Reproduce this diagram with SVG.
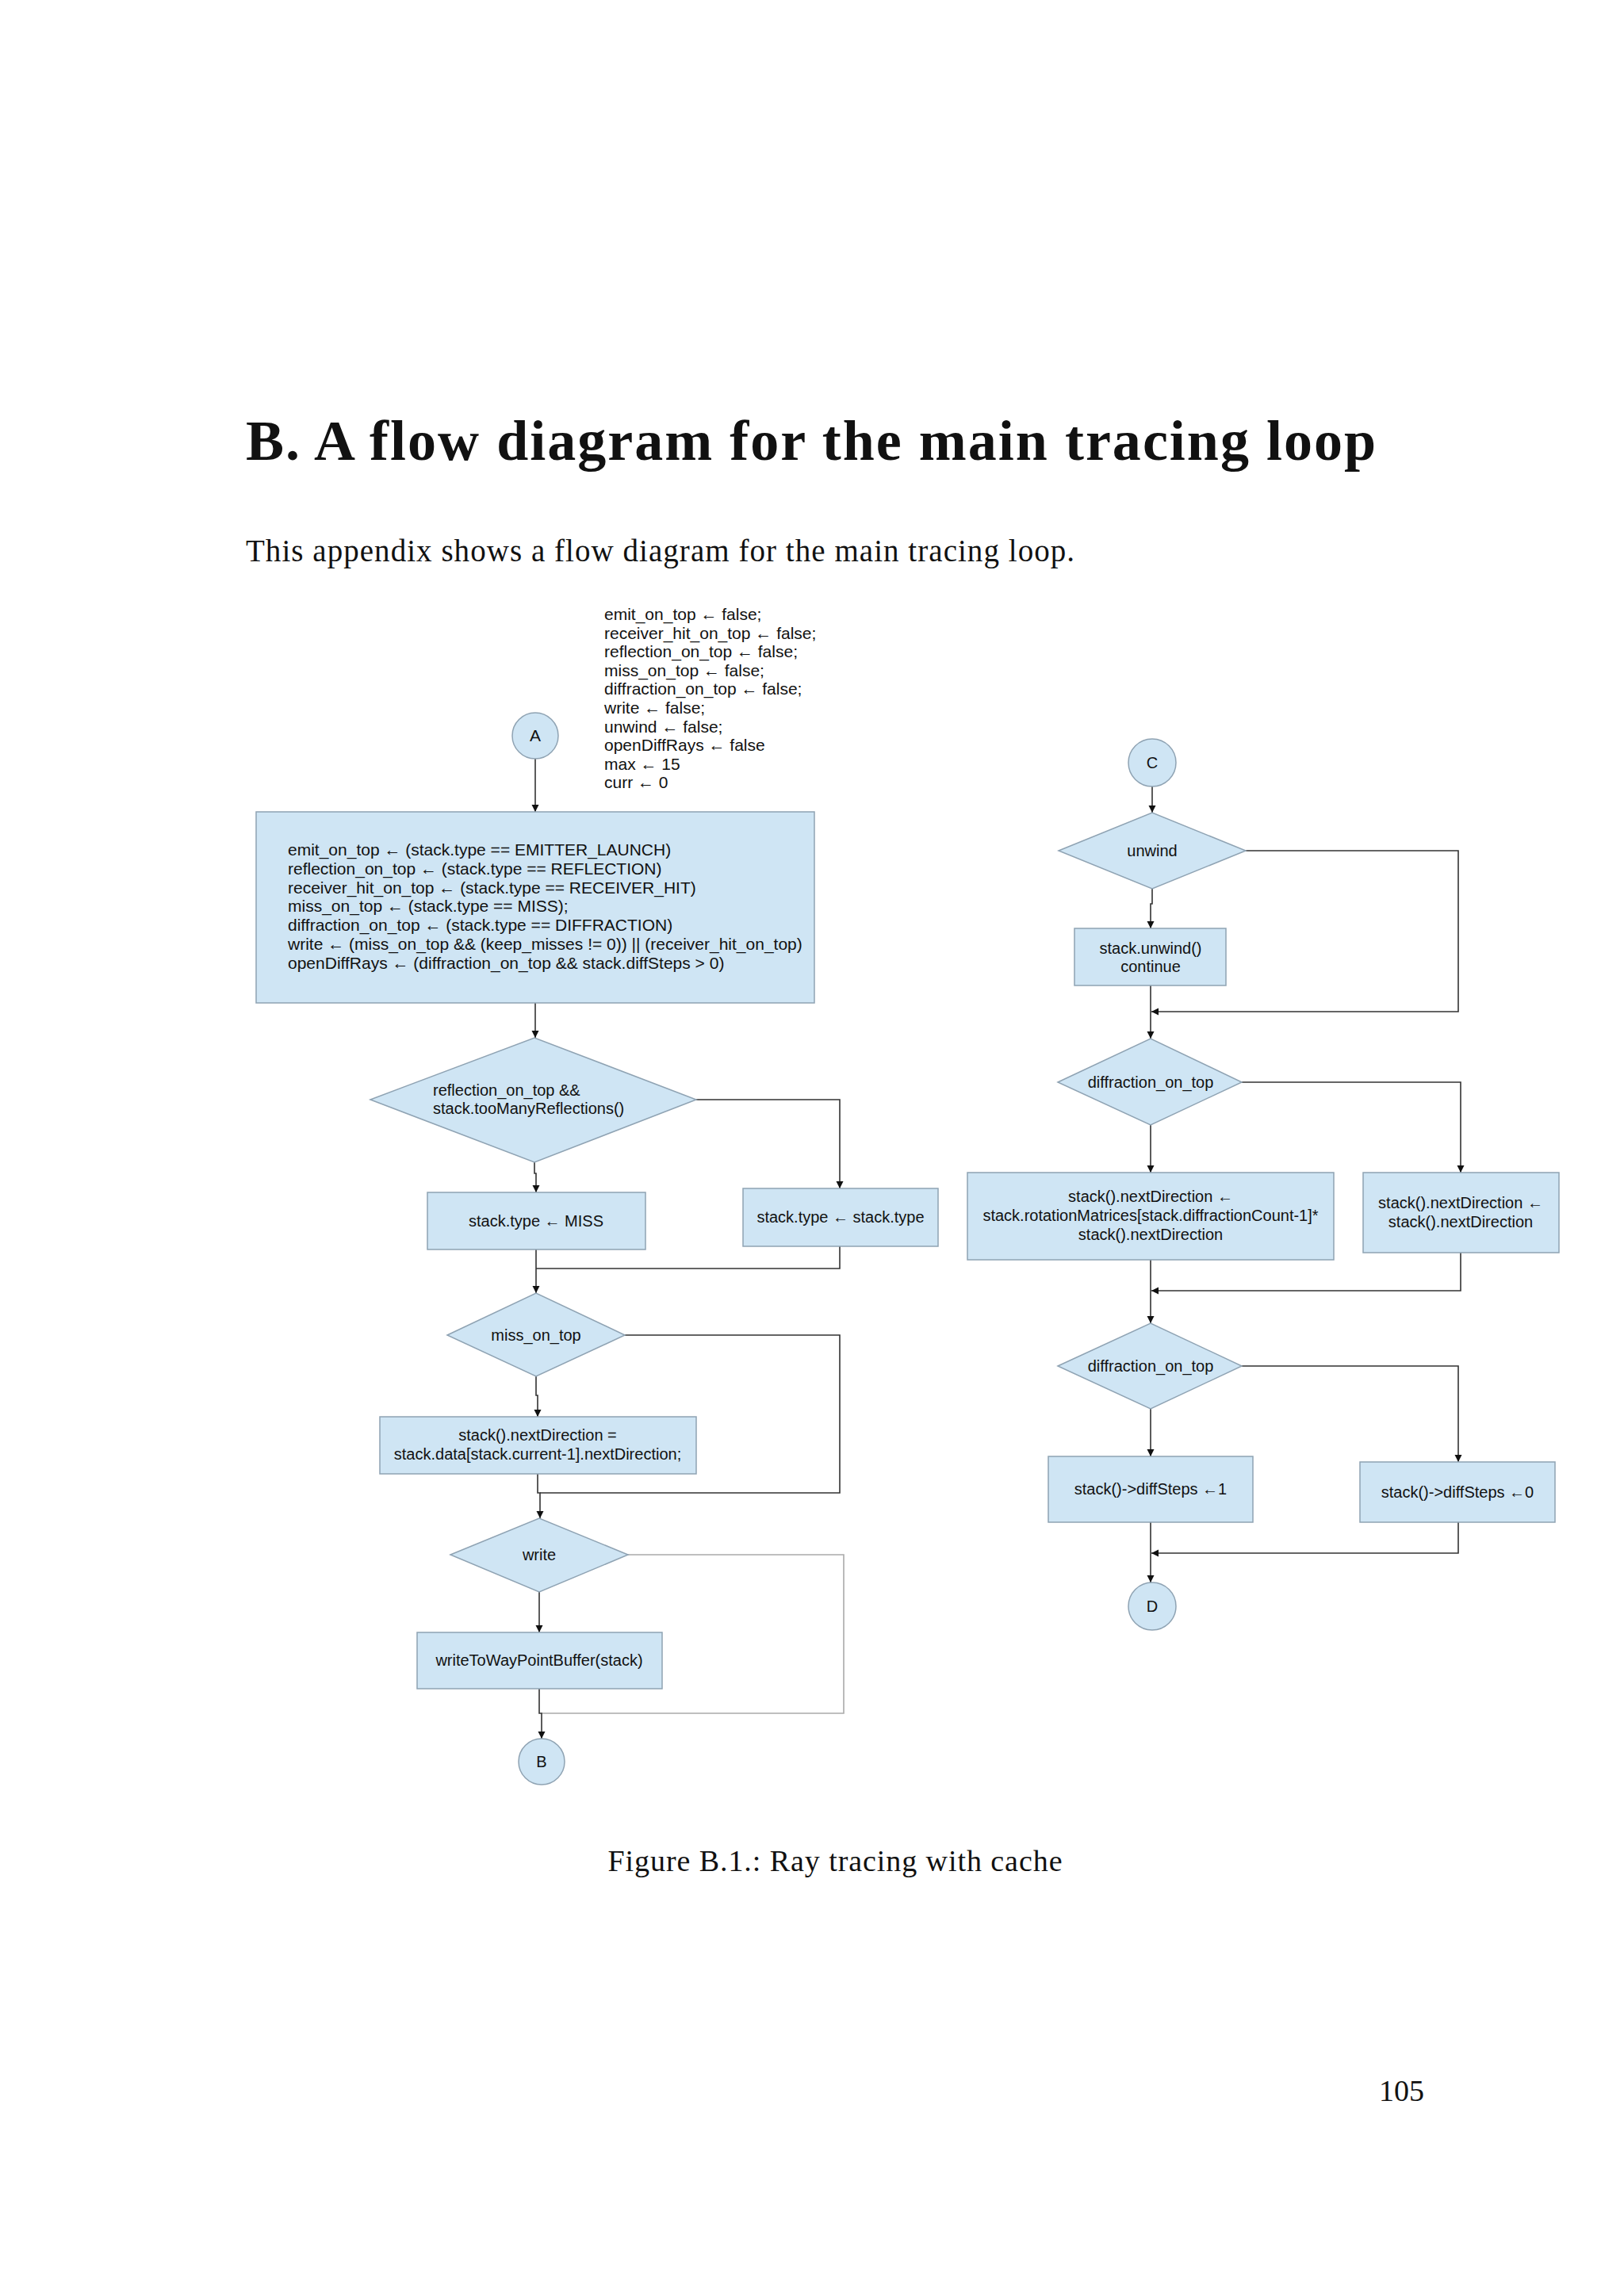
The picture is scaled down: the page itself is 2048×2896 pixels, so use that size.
<svg xmlns="http://www.w3.org/2000/svg" width="2048" height="2896" viewBox="0 0 2048 2896">
<style>
.n{fill:#cfe5f4;stroke:#8fa3b3;stroke-width:1.5}
.t{font-family:"Liberation Sans",Arial,sans-serif;font-size:20px;fill:#111}
.tn{font-family:"Liberation Sans Narrow","Liberation Sans",Arial,sans-serif;font-size:21px;fill:#111}
.c{text-anchor:middle}
.e{fill:none;stroke:#333;stroke-width:1.6}
.g{fill:none;stroke:#aaa;stroke-width:1.6}
.s{font-family:"Liberation Serif","Times New Roman",serif;fill:#111}
</style>
<defs><marker id="a" viewBox="0 0 10 10" refX="10" refY="5" markerWidth="9" markerHeight="11" orient="auto" markerUnits="userSpaceOnUse"><path d="M0,0L10,5L0,10z" fill="#111"/></marker></defs>
<rect width="2048" height="2896" fill="#fff"/>
<text class="s" x="310" y="580" font-size="72" font-weight="bold" textLength="1425">B.  A flow diagram for the main tracing loop</text>
<text class="s" x="310" y="708" font-size="39" textLength="1045">This appendix shows a flow diagram for the main tracing loop.</text>
<g id="init"><text class="tn" x="762" y="782">emit_on_top ← false;<tspan x="762" dy="23.6">receiver_hit_on_top ← false;</tspan><tspan x="762" dy="23.6">reflection_on_top ← false;</tspan><tspan x="762" dy="23.6">miss_on_top ← false;</tspan><tspan x="762" dy="23.6">diffraction_on_top ← false;</tspan><tspan x="762" dy="23.6">write ← false;</tspan><tspan x="762" dy="23.6">unwind ←  false;</tspan><tspan x="762" dy="23.6">openDiffRays ←  false</tspan><tspan x="762" dy="23.6">max ← 15</tspan><tspan x="762" dy="23.6">curr ← 0</tspan></text></g>
<g id="connectors">
<path class="e" d="M675,957V1024" marker-end="url(#a)"/>
<path class="e" d="M675,1265V1309" marker-end="url(#a)"/>
<path class="e" d="M878,1387H1059V1499" marker-end="url(#a)"/>
<path class="e" d="M674,1466V1480H676V1504" marker-end="url(#a)"/>
<path class="e" d="M676,1576V1631" marker-end="url(#a)"/>
<path class="e" d="M1059,1572V1600H676"/>
<path class="e" d="M788,1684H1059V1883H681"/>
<path class="e" d="M676,1736V1760H678V1787" marker-end="url(#a)"/>
<path class="e" d="M678,1859V1883H681V1915" marker-end="url(#a)"/>
<path class="g" d="M792,1961H1064V2161H683"/>
<path class="e" d="M680,2008V2059" marker-end="url(#a)"/>
<path class="e" d="M680,2130V2161H683V2193" marker-end="url(#a)"/>
<path class="e" d="M1453,992V1025" marker-end="url(#a)"/>
<path class="e" d="M1571,1073H1839V1276H1452" marker-end="url(#a)"/>
<path class="e" d="M1453,1121V1140H1451V1171" marker-end="url(#a)"/>
<path class="e" d="M1451,1243V1310" marker-end="url(#a)"/>
<path class="e" d="M1566,1365H1842V1479" marker-end="url(#a)"/>
<path class="e" d="M1451,1419V1479" marker-end="url(#a)"/>
<path class="e" d="M1842,1580V1628H1452" marker-end="url(#a)"/>
<path class="e" d="M1451,1589V1669" marker-end="url(#a)"/>
<path class="e" d="M1566,1723H1839V1844" marker-end="url(#a)"/>
<path class="e" d="M1451,1777V1837" marker-end="url(#a)"/>
<path class="e" d="M1839,1920V1959H1452" marker-end="url(#a)"/>
<path class="e" d="M1451,1920V1996" marker-end="url(#a)"/>
</g>
<g id="A"><ellipse class="n" cx="675" cy="928" rx="29" ry="29"/><text class="tn c" x="675" y="935">A</text></g>
<g id="assign"><rect class="n" x="323" y="1024" width="704" height="241"/><text class="tn" x="363" y="1079">emit_on_top ←  (stack.type == EMITTER_LAUNCH)<tspan x="363" dy="23.8">reflection_on_top ←  (stack.type == REFLECTION)</tspan><tspan x="363" dy="23.8">receiver_hit_on_top ←  (stack.type == RECEIVER_HIT)</tspan><tspan x="363" dy="23.8">miss_on_top  ←  (stack.type == MISS);</tspan><tspan x="363" dy="23.8">diffraction_on_top ←  (stack.type == DIFFRACTION)</tspan><tspan x="363" dy="23.8">write ←  (miss_on_top &amp;&amp; (keep_misses != 0)) || (receiver_hit_on_top)</tspan><tspan x="363" dy="23.8">openDiffRays ←  (diffraction_on_top &amp;&amp; stack.diffSteps &gt; 0)</tspan></text></g>
<g id="d1"><polygon class="n" points="467,1387 674,1309 878,1387 674,1466"/><text class="t" x="546" y="1382">reflection_on_top &amp;&amp;<tspan x="546" dy="23">stack.tooManyReflections()</tspan></text></g>
<g id="miss"><rect class="n" x="539" y="1504" width="275" height="72"/><text class="t c" x="676" y="1547">stack.type ← MISS</text></g>
<g id="same"><rect class="n" x="937" y="1499" width="246" height="73"/><text class="t c" x="1060" y="1542">stack.type ← stack.type</text></g>
<g id="d2"><polygon class="n" points="564,1684 676,1631 788,1684 676,1736"/><text class="t c" x="676" y="1691">miss_on_top</text></g>
<g id="nd"><rect class="n" x="479" y="1787" width="399" height="72"/><text class="t c" x="678" y="1817">stack().nextDirection =<tspan x="678" dy="24">stack.data[stack.current-1].nextDirection;</tspan></text></g>
<g id="d3"><polygon class="n" points="568,1961 680,1915 792,1961 680,2008"/><text class="t c" x="680" y="1968">write</text></g>
<g id="wb"><rect class="n" x="526" y="2059" width="309" height="71"/><text class="t c" x="680" y="2101">writeToWayPointBuffer(stack)</text></g>
<g id="B"><ellipse class="n" cx="683" cy="2222" rx="29" ry="29"/><text class="t c" x="683" y="2229">B</text></g>
<g id="C"><ellipse class="n" cx="1453" cy="962" rx="30" ry="30"/><text class="t c" x="1453" y="969">C</text></g>
<g id="d4"><polygon class="n" points="1335,1073 1453,1025 1571,1073 1453,1121"/><text class="t c" x="1453" y="1080">unwind</text></g>
<g id="uw"><rect class="n" x="1355" y="1171" width="191" height="72"/><text class="t c" x="1451" y="1203">stack.unwind()<tspan x="1451" dy="23">continue</tspan></text></g>
<g id="d5"><polygon class="n" points="1334,1365 1451,1310 1566,1365 1451,1419"/><text class="t c" x="1451" y="1372">diffraction_on_top</text></g>
<g id="rot"><rect class="n" x="1220" y="1479" width="462" height="110"/><text class="t c" x="1451" y="1516">stack().nextDirection ←<tspan x="1451" dy="24">stack.rotationMatrices[stack.diffractionCount-1]*</tspan><tspan x="1451" dy="24">stack().nextDirection</tspan></text></g>
<g id="keep"><rect class="n" x="1719" y="1479" width="247" height="101"/><text class="t c" x="1842" y="1524">stack().nextDirection ←<tspan x="1842" dy="24">stack().nextDirection</tspan></text></g>
<g id="d6"><polygon class="n" points="1334,1723 1451,1669 1566,1723 1451,1777"/><text class="t c" x="1451" y="1730">diffraction_on_top</text></g>
<g id="s1"><rect class="n" x="1322" y="1837" width="258" height="83"/><text class="t c" x="1451" y="1885">stack()-&gt;diffSteps ←1</text></g>
<g id="s0"><rect class="n" x="1715" y="1844" width="246" height="76"/><text class="t c" x="1838" y="1889">stack()-&gt;diffSteps ←0</text></g>
<g id="D"><ellipse class="n" cx="1453" cy="2026" rx="30" ry="30"/><text class="t c" x="1453" y="2033">D</text></g>
<text class="s" x="1053" y="2360" font-size="38" text-anchor="middle" textLength="573">Figure B.1.: Ray tracing with cache</text>
<text class="s" x="1796" y="2650" font-size="38" text-anchor="end">105</text>
</svg>
